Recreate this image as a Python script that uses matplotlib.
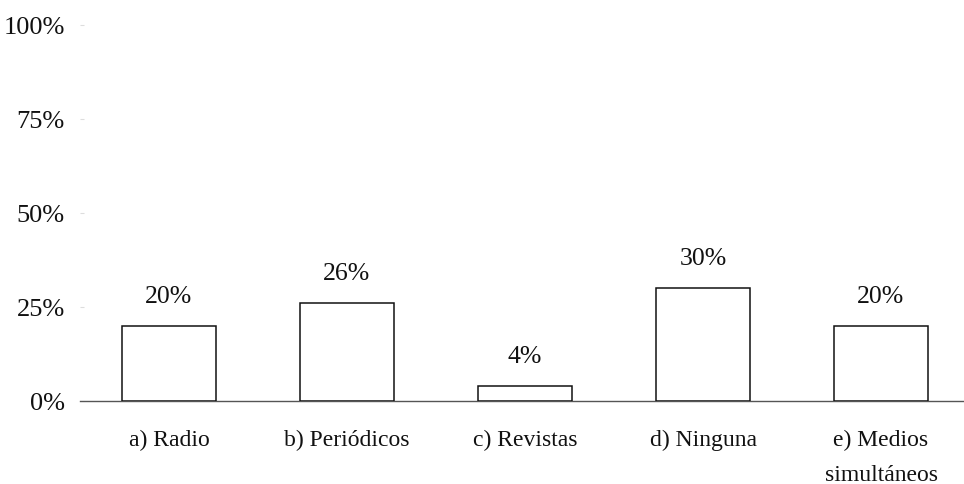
import matplotlib
matplotlib.use("Agg")
import matplotlib.pyplot as plt
from matplotlib.ticker import FuncFormatter

# datos de la gráfica
categorias = ["a) Radio", "b) Periódicos", "c) Revistas", "d) Ninguna", "e) Medios\nsimultáneos"]
porcentajes = [20, 26, 4, 30, 20]
marcas_y = [0, 25, 50, 75, 100]

plt.rcParams['font.family'] = ['Liberation Serif', 'DejaVu Serif']

fig = plt.figure(figsize=(9.64, 4.84), dpi=100, facecolor='white')
ax = fig.add_axes([80 / 964, 83 / 484, 890 / 964, 376 / 484])

x = list(range(len(categorias)))
barras = ax.bar(x, porcentajes, width=0.525, color='white',
                edgecolor='#111111', linewidth=1.1, zorder=3)

# etiquetas de valor sobre cada barra
for xi, v in zip(x, porcentajes):
    ax.annotate(f"{v}%", (xi, v), xytext=(0, 21), textcoords='offset points',
                ha='center', va='center', fontsize=18.5, color='#111111')

ax.set_xlim(-0.5, 4.5)
ax.set_ylim(0, 100)
ax.set_yticks(marcas_y)
ax.yaxis.set_major_formatter(FuncFormatter(lambda v, p: f"{v:.0f}%"))
ax.set_xticks(x)
ax.set_xticklabels(categorias, fontsize=17, color='#111111', linespacing=1.85)
ax.tick_params(axis='x', length=0, pad=21)
ax.tick_params(axis='y', length=3, direction='in', color='#dddddd',
               labelsize=19, labelcolor='#111111', pad=11)

# solo el eje horizontal
for lado in ['top', 'right', 'left']:
    ax.spines[lado].set_visible(False)
ax.spines['bottom'].set_color('#555555')
ax.spines['bottom'].set_linewidth(1.0)

fig.savefig('out.png', dpi=100, facecolor='white')
